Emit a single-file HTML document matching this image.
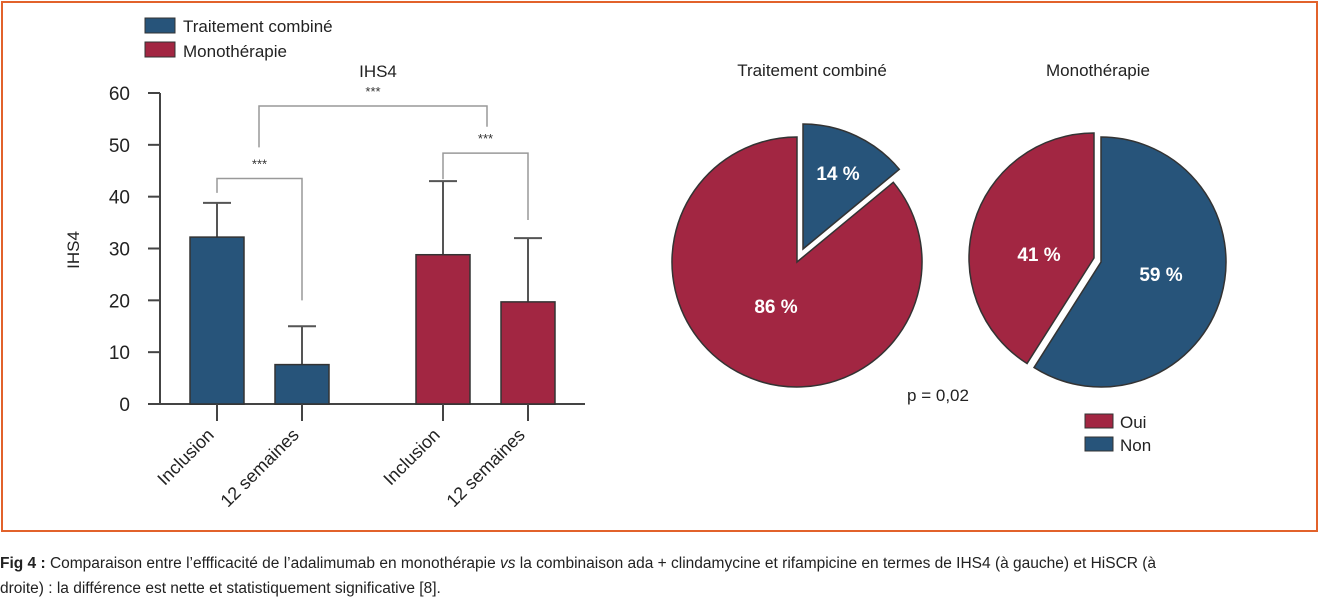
<!DOCTYPE html>
<html><head><meta charset="utf-8"><style>
body{margin:0;width:1320px;height:598px;background:#fff;overflow:hidden;font-family:"Liberation Sans",sans-serif}
#frame{position:absolute;left:1px;top:1px;width:1313px;height:527px;border:2px solid #e2622b}
.cap{position:absolute;left:0;font-size:15.5px;color:#222;white-space:nowrap}
</style></head><body>
<div id="frame"></div>
<svg width="1320" height="598" style="position:absolute;left:0;top:0" font-family="Liberation Sans, sans-serif">
<g id="bars"></g>
<g id="pies"></g>
</svg>
<div class="cap" style="top:555px"><b>Fig 4 :</b> Comparaison entre l’effficacité de l’adalimumab en monothérapie <i>vs</i> la combinaison ada + clindamycine et rifampicine en termes de IHS4 (à gauche) et HiSCR (à</div>
<div class="cap" style="top:580px">droite) : la différence est nette et statistiquement significative [8].</div>
<script>
const categories=["Inclusion","12 semaines","Inclusion","12 semaines"];
const meanValues=[32.2,7.6,28.8,19.7];
const errorValues=[38.8,15,43,32];
const yTicks=[0,10,20,30,40,50,60];
const pieCombine=[14,86];
const pieMono=[41,59];
const pieLabels=["14 %","86 %","41 %","59 %"];
const NS="http://www.w3.org/2000/svg";
const BLUE="#27547a",RED="#a22642";
function mk(p,t,a,txt){const e=document.createElementNS(NS,t);for(const k in a)e.setAttribute(k,a[k]);if(txt!==undefined)e.textContent=txt;p.appendChild(e);return e;}
const y=v=>404-v*(404-93)/60;
const xc=[217,302,443,528];
const g=document.getElementById('bars');
// legend
let l=mk(g,'rect',{x:145,y:18,width:30,height:15,fill:BLUE,stroke:'#333'});
l=mk(g,'text',{x:183,y:32,'font-size':17,fill:'#222'},'Traitement combiné');
l=mk(g,'rect',{x:145,y:42,width:30,height:15,fill:RED,stroke:'#333'});
l=mk(g,'text',{x:183,y:57,'font-size':17,fill:'#222'},'Monothérapie');
l=mk(g,'text',{x:378,y:77,'font-size':17,'text-anchor':'middle',fill:'#222'},'IHS4');
l=mk(g,'text',{x:0,y:0,'font-size':17,'text-anchor':'middle',fill:'#222',transform:'translate(79,250) rotate(-90)'},'IHS4');
// axes
l=mk(g,'line',{x1:160,y1:y(60),x2:160,y2:404,stroke:'#444','stroke-width':2});
l=mk(g,'line',{x1:148,y1:404,x2:585,y2:404,stroke:'#444','stroke-width':2});
yTicks.forEach(t=>{
 let e=mk(g,'line',{x1:148,y1:y(t),x2:160,y2:y(t),stroke:'#444','stroke-width':2});
 e=mk(g,'text',{x:130,y:y(t)+7,'font-size':19,'text-anchor':'end',fill:'#222'},t);
});
meanValues.forEach((v,i)=>{
 const c=i<2?BLUE:RED;
 let e=mk(g,'line',{x1:xc[i],y1:y(errorValues[i]),x2:xc[i],y2:y(v),stroke:'#555','stroke-width':2});
 e=mk(g,'line',{x1:xc[i]-14,y1:y(errorValues[i]),x2:xc[i]+14,y2:y(errorValues[i]),stroke:'#555','stroke-width':2});
 e=mk(g,'rect',{x:xc[i]-27,y:y(v),width:54,height:404-y(v),fill:c,stroke:'#333','stroke-width':1.5});
 e=mk(g,'line',{x1:xc[i],y1:404,x2:xc[i],y2:421,stroke:'#444','stroke-width':2});
 e=mk(g,'text',{x:0,y:0,'font-size':18,'text-anchor':'end',fill:'#222',transform:`translate(${xc[i]-2},${436}) rotate(-45)`},categories[i]);
});
function bracket(x1,y1,x2,y2,top,name){
 let e=mk(g,'path',{d:`M${x1},${y1}V${top}H${x2}V${y2}`,fill:'none',stroke:'#999','stroke-width':1.5});
 e=mk(g,'text',{x:(x1+x2)/2,y:top-10,'font-size':13,'text-anchor':'middle',fill:'#333'},'***');
}
bracket(217,y(errorValues[0])-10,302,y(20),y(softTop(0)),'sig-bracket-combine');
function softTop(i){return 43.5;}
bracket(443,y(errorValues[2])-2,528,y(35.5),y(48.4),'sig-bracket-mono');
bracket(259,y(49.5),487,y(53.5),y(57.5),'sig-bracket-groups');
// pies
const pg=document.getElementById('pies');
function arc(cx,cy,r,a0,a1){const p=a=>[cx+r*Math.sin(a*Math.PI/180),cy-r*Math.cos(a*Math.PI/180)];const s=p(a0),e=p(a1);return `M${cx},${cy}L${s[0]},${s[1]}A${r},${r} 0 ${a1-a0>180?1:0} 1 ${e[0]},${e[1]}Z`;}
function pie(cx,cy,vals,cols,offs,labels,lpos,name){
 let a=0;
 vals.forEach((v,i)=>{const a1=a+v*3.6;const e=mk(pg,'path',{d:arc(cx+offs[i][0],cy+offs[i][1],125,a,a1),fill:cols[i],stroke:'#333','stroke-width':1.5});
 const t=mk(pg,'text',{x:lpos[i][0],y:lpos[i][1],'font-size':19,'font-weight':'bold','text-anchor':'middle',fill:'#fff'},labels[i]);
 a=a1;});
}
pie(797,262,pieCombine,[BLUE,RED],[[6,-13],[0,0]],[pieLabels[0],pieLabels[1]],[[838,180],[776,313]],'pie-combine');
// mono: red from -147.6 to 0 drawn as second going around; draw blue 0..212.4 then red
(function(){let e=mk(pg,'path',{d:arc(1101,262,125,0,pieMono[1]*3.6),fill:BLUE,stroke:'#333','stroke-width':1.5});
 e=mk(pg,'path',{d:arc(1094,258,125,pieMono[1]*3.6,360),fill:RED,stroke:'#333','stroke-width':1.5});
 e=mk(pg,'text',{x:1039,y:261,'font-size':19,'font-weight':'bold','text-anchor':'middle',fill:'#fff'},pieLabels[2]);
 e=mk(pg,'text',{x:1161,y:281,'font-size':19,'font-weight':'bold','text-anchor':'middle',fill:'#fff'},pieLabels[3]);})();
const tt=[[812,'Traitement combiné','pie-title-combine'],[1098,'Monothérapie','pie-title-mono']];
tt.forEach(t=>{const e=mk(pg,'text',{x:t[0],y:76,'font-size':17,'text-anchor':'middle',fill:'#222'},t[1]);});
let e=mk(pg,'text',{x:938,y:401,'font-size':17,'text-anchor':'middle',fill:'#222'},'p = 0,02');
e=mk(pg,'rect',{x:1085,y:414,width:28,height:14,fill:RED,stroke:'#333'});
e=mk(pg,'text',{x:1120,y:428,'font-size':17,fill:'#222'},'Oui');
e=mk(pg,'rect',{x:1085,y:437,width:28,height:14,fill:BLUE,stroke:'#333'});
e=mk(pg,'text',{x:1120,y:451,'font-size':17,fill:'#222'},'Non');
</script>
</body></html>
